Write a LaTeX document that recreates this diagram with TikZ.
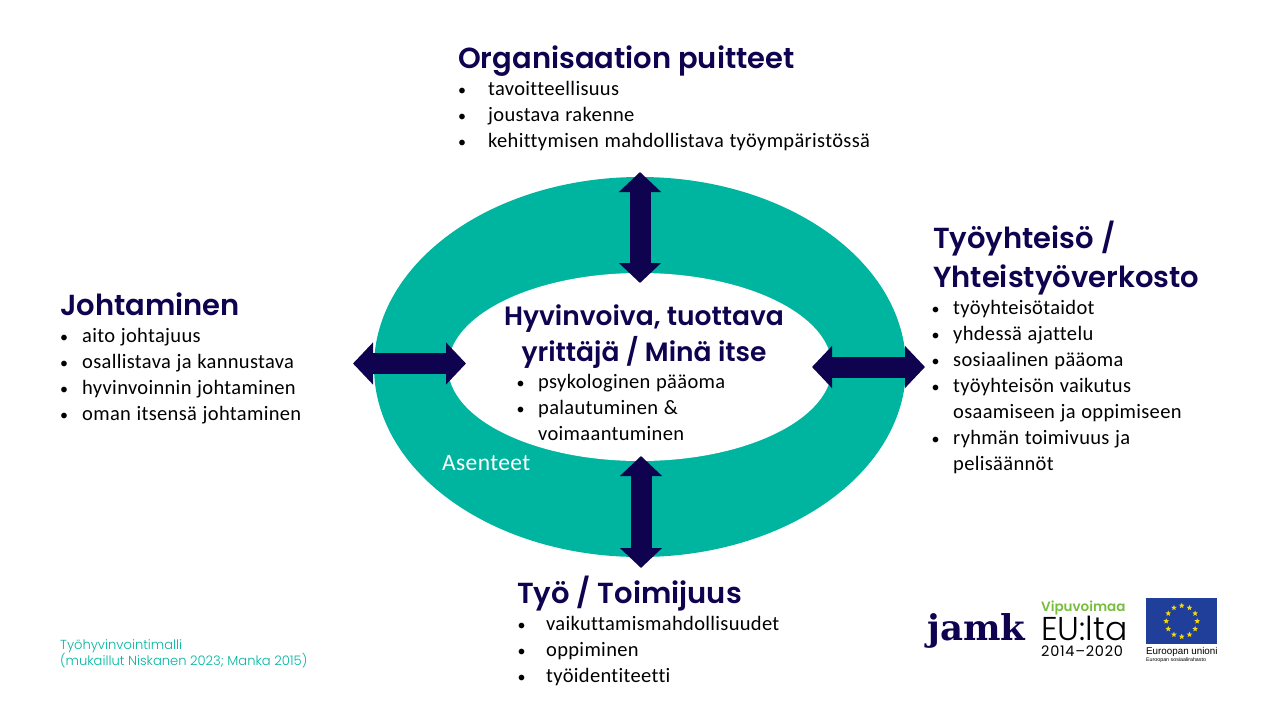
\documentclass[tikz,border=0pt]{standalone}
\usepackage{fontspec}
\usepackage{tikz}
\usetikzlibrary{arrows.meta,calc,positioning,shapes.geometric}
\setmainfont{Carlito}[Ligatures=NoCommon,LetterSpace=1.6,WordSpace=1.15]
\newfontfamily\headfont{Poppins}[BoldFont=* SemiBold]
\newfontfamily\thinfont{Poppins Light}
\newfontfamily\plainfont{Poppins}[LetterSpace=5]
\newfontfamily\slabfont{DejaVu Serif}
\newfontfamily\logofont{Liberation Sans}
\definecolor{navy}{HTML}{0F0350}
\definecolor{teal}{HTML}{00B5A0}
\definecolor{lime}{HTML}{78BE3C}
\definecolor{flagblue}{HTML}{1F3F9A}
\definecolor{flagstar}{HTML}{F5D90A}
\newcommand{\bul}[2][29pt]{\makebox[#1][l]{\fontsize{16}{16}\selectfont•}#2}
\tikzset{%
  >=latex,
  head/.style={inner sep=0pt,anchor=base west,align=left,text=navy,
    font=\headfont\bfseries\fontsize{29}{38.5}\selectfont},
  items/.style={inner sep=0pt,anchor=north west,align=left,text=black,
    font=\fontsize{20.5}{25.9}\selectfont},
  twoway/.style={draw=navy,line width=21pt,{Triangle[length=20pt,width=41pt]}-{Triangle[length=20pt,width=41pt]}},
  logo/.style={inner sep=0pt,anchor=base west}
}
\begin{document}
\begin{tikzpicture}[x=1pt,y=-1pt,
	star5/.style={star,star points=5,star point ratio=2.4,fill=flagstar,inner sep=0pt,minimum size=6pt}]
	\useasboundingbox (0,0) rectangle (1280,720);
	\node[ellipse,fill=teal,inner sep=0pt,minimum width=532pt,minimum height=380pt] (ring) at (640,367) {};
	\node[ellipse,fill=white,inner sep=0pt,minimum width=384pt,minimum height=188pt] (hole) at (640,367) {};
	\node[inner sep=0pt,anchor=base west,text=white,font=\fontsize{23.5}{24}\selectfont] (attitude) at (442,470) {Asenteet};
	\coordinate (topa) at (640,172);
	\coordinate (topb) at (640,283);
	\coordinate (lowa) at (641,456);
	\coordinate (lowb) at (641,568);
	\coordinate (lefa) at (353,363.5);
	\coordinate (lefb) at (466,363.5);
	\coordinate (riga) at (812,367);
	\coordinate (rigb) at (925,367);
	\draw[twoway] (topa) -- (topb);
	\draw[twoway] (lowa) -- (lowb);
	\draw[twoway] (lefa) -- (lefb);
	\draw[twoway] (riga) -- (rigb);
	\node[head] (org) at (458,68) {Organisaation puitteet};
	\node[items,below right=13.5pt and 0pt of org.base west] (orglist) {\bul[30pt]{tavoitteellisuus}\\\bul[30pt]{joustava rakenne}\\\bul[30pt]{kehittymisen mahdollistava työympäristössä}};
	\node[head] (lead) at (60,315) {Johtaminen};
	\node[items,below right=13.5pt and 0pt of lead.base west] (leadlist) {\bul[22pt]{aito johtajuus}\\\bul[22pt]{osallistava ja kannustava}\\\bul[22pt]{hyvinvoinnin johtaminen}\\\bul[22pt]{oman itsensä johtaminen}};
	\node[head] (comm) at (933,287) {Työyhteisö /\\Yhteistyöverkosto};
	\node[items] (commlist) at (931.5,300.5) {\bul[21.5pt]{työyhteisötaidot}\\\bul[21.5pt]{yhdessä ajattelu}\\\bul[21.5pt]{sosiaalinen pääoma}\\\bul[21.5pt]{työyhteisön vaikutus}\\\makebox[21.5pt]{}osaamiseen ja oppimiseen\\\bul[21.5pt]{ryhmän toimivuus ja}\\\makebox[21.5pt]{}pelisäännöt};
	\node[head,anchor=center,align=center,font=\headfont\bfseries\fontsize{26.5}{36}\selectfont] (self) at (644,337) {Hyvinvoiva, tuottava\\yrittäjä / Minä itse};
	\node[items] (selflist) at (516.5,374) {\bul[21.5pt]{psykologinen pääoma}\\\bul[21.5pt]{palautuminen \&}\\\makebox[21.5pt]{}voimaantuminen};
	\node[head] (work) at (517,603) {Työ / Toimijuus};
	\node[items,below right=13.5pt and 0.5pt of work.base west] (worklist) {\bul[28.5pt]{vaikuttamismahdollisuudet}\\\bul[28.5pt]{oppiminen}\\\bul[28.5pt]{työidentiteetti}};
	\node[inner sep=0pt,anchor=north west,align=left,text=teal,font=\thinfont\fontsize{13.1}{16}\selectfont] (model) at (60,639) {Työhyvinvointimalli\\(mukaillut Niskanen 2023; Manka 2015)};
	\node[logo,text=navy,font=\slabfont\bfseries\fontsize{35.5}{36}\selectfont] (jamk) at (927,640) {jamk};
	\node[logo,text=lime,font=\headfont\bfseries\fontsize{13.5}{14}\selectfont] (vipu) at (1041,611) {Vipuvoimaa};
	\node[logo,font=\thinfont\fontsize{33}{33}\selectfont] (eulta) at (1041,640) {EU:lta};
	\node[logo,font=\plainfont\fontsize{14.5}{15}\selectfont] (years) at (1041,656) {2014–2020};
	\node[fill=flagblue,inner sep=0pt,minimum width=71pt,minimum height=46pt,anchor=north west] (flag) at (1146,598) {};
	\foreach \a in {0,30,...,330}
		\node[star5] at ($(flag.center)+(\a:15.5pt)$) {};
	\node[logo,font=\logofont\fontsize{9.8}{10}\selectfont] (eu) at (1146,654) {Euroopan unioni};
	\node[logo,font=\logofont\fontsize{5.3}{6}\selectfont] (esr) at (1146,661) {Euroopan sosiaalirahasto};
\end{tikzpicture}
\end{document}
